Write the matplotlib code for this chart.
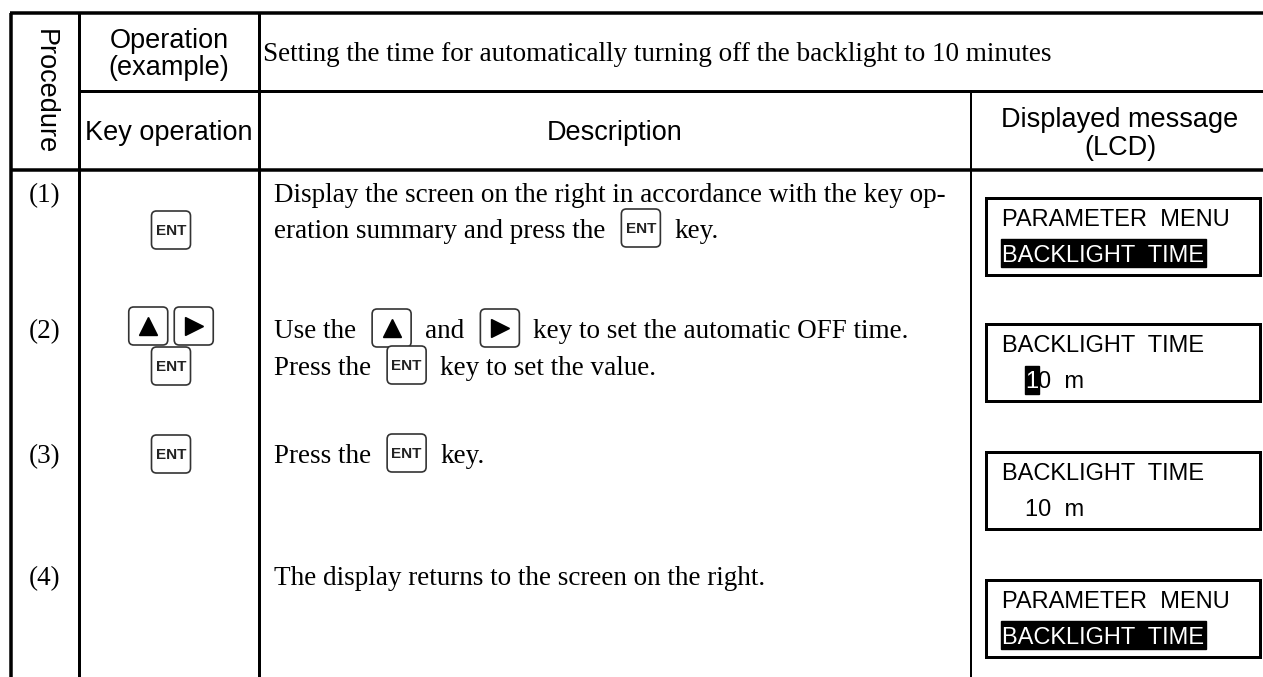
import matplotlib
matplotlib.use("Agg")
import matplotlib.pyplot as plt
from matplotlib.patches import FancyBboxPatch, Rectangle

# conteudo da tabela
passos = ["(1)", "(2)", "(3)", "(4)"]
titulo = "Setting the time for automatically turning off the backlight to 10 minutes"
cab_procedimento = "Procedure"
cab_operacao = ["Operation", "(example)"]
cab_tecla = "Key operation"
cab_descricao = "Description"
cab_lcd = ["Displayed message", "(LCD)"]

# teclas na coluna "Key operation"
teclas = [[["ENT"]], [["UP", "RIGHT"], ["ENT"]], [["ENT"]], []]

# descricao: cada linha e uma lista de pedacos (texto ou tecla)
descricoes = [
    [["Display the screen on the right in accordance with the key op-"],
     ["eration summary and press the", "ENT", "key."]],
    [["Use the", "UP", "and", "RIGHT", "key to set the automatic OFF time."],
     ["Press the", "ENT", "key to set the value."]],
    [["Press the", "ENT", "key."]],
    [["The display returns to the screen on the right."]],
]

# mensagens do LCD: linha 1, linha 2 e tipo de realce
lcd_linha1 = ["PARAMETER  MENU", "BACKLIGHT  TIME", "BACKLIGHT  TIME", "PARAMETER  MENU"]
lcd_linha2 = ["BACKLIGHT  TIME", "10  m", "10  m", "BACKLIGHT  TIME"]
lcd_realce = ["linha", "cursor", None, "linha"]

# layout (pixels)
W, H = 1263, 677
x_esq, x_c1, x_c2, x_c3 = 11, 79, 259, 971
y_topo, y_l1, y_l2 = 13, 91, 170
bases = [[202, 238], [338, 375], [463], [585]]
y_teclas = [[230], [326, 366], [454], []]
lcd_topo = [198, 324, 452, 580]

SERIF = "Liberation Serif"
SANS = "Liberation Sans"
TAM = 19.5
PX = 0.72  # pontos por pixel

fig = plt.figure(figsize=(W / 100, H / 100), dpi=100)
ax = fig.add_axes([0, 0, 1, 1])
ax.set_xlim(0, W)
ax.set_ylim(H, 0)
ax.axis("off")
r = fig.canvas.get_renderer()


def tecla(cx, cy, tipo):
    ax.add_patch(FancyBboxPatch((cx - 19.5, cy - 19), 39, 38,
                                boxstyle="round,pad=0,rounding_size=5",
                                fc="white", ec="#333333", lw=1.2, zorder=3))
    if tipo == "ENT":
        ax.text(cx, cy + 1, "ENT", family=SANS, fontsize=11, fontweight="bold",
                color="#222222", ha="center", va="center", zorder=4)
    else:
        m = "^" if tipo == "UP" else ">"
        ax.plot([cx], [cy], marker=m, ms=13, color="black", zorder=4)


def escreve_linha(x, base, pedacos):
    for p in pedacos:
        if p in ("ENT", "UP", "RIGHT"):
            x += 16
            tecla(x + 19.5, base - 10, p)
            x += 39 + 14
        else:
            t = ax.text(x, base, p, family=SERIF, fontsize=TAM, ha="left", va="baseline")
            x += t.get_window_extent(r).width


def linha(xs, ys, px):
    ax.plot(xs, ys, color="black", lw=px * PX, solid_capstyle="butt")


# linhas da tabela
linha([x_esq - 1.5, W], [y_topo, y_topo], 3.5)
linha([x_esq, x_esq], [y_topo, H], 3.5)
linha([x_c1, x_c1], [y_topo, H], 3)
linha([x_c2, x_c2], [y_topo, H], 3)
linha([x_c1, W], [y_l1, y_l1], 3)
linha([x_esq, W], [y_l2, y_l2], 3.5)
linha([x_c3, x_c3], [y_l1, H], 2)

# cabecalho
ax.text((x_esq + x_c1) / 2, (y_topo + y_l2) / 2, cab_procedimento, family=SANS,
        fontsize=TAM, rotation=270, ha="center", va="center")
ax.text((x_c1 + x_c2) / 2, 48, cab_operacao[0], family=SANS, fontsize=TAM, ha="center", va="baseline")
ax.text((x_c1 + x_c2) / 2, 75, cab_operacao[1], family=SANS, fontsize=TAM, ha="center", va="baseline")
ax.text(263, 61, titulo, family=SERIF, fontsize=TAM, ha="left", va="baseline")
ax.text((x_c1 + x_c2) / 2, 140, cab_tecla, family=SANS, fontsize=TAM, ha="center", va="baseline")
ax.text((x_c2 + x_c3) / 2, 140, cab_descricao, family=SANS, fontsize=TAM, ha="center", va="baseline")
ax.text((x_c3 + W) / 2 + 3, 127, cab_lcd[0], family=SANS, fontsize=TAM, ha="center", va="baseline")
ax.text((x_c3 + W) / 2 + 3, 155, cab_lcd[1], family=SANS, fontsize=TAM, ha="center", va="baseline")

# linhas de procedimento
for i, passo in enumerate(passos):
    ax.text((x_esq + x_c1) / 2, bases[i][0], passo, family=SERIF, fontsize=TAM,
            ha="center", va="baseline")

    # teclas
    for grupo, cy in zip(teclas[i], y_teclas[i]):
        n = len(grupo)
        cx0 = 171 - (n - 1) * 45.5 / 2
        for k, tp in enumerate(grupo):
            tecla(cx0 + k * 45.5, cy, tp)

    # descricao
    for pedacos, base in zip(descricoes[i], bases[i]):
        escreve_linha(274, base, pedacos)

    # LCD
    y0 = lcd_topo[i]
    ax.add_patch(Rectangle((986, y0), 274, 77, fill=False, ec="black", lw=3 * PX))
    ax.text(1002, y0 + 28, lcd_linha1[i], family=SANS, fontsize=17, ha="left", va="baseline")
    b2 = y0 + 64
    if lcd_realce[i] == "linha":
        t = ax.text(1002, b2, lcd_linha2[i], family=SANS, fontsize=17, color="white",
                    ha="left", va="baseline", zorder=3)
        w = t.get_window_extent(r).width
        ax.add_patch(Rectangle((1001, b2 - 23), w + 3, 28, color="black", zorder=2))
    elif lcd_realce[i] == "cursor":
        c = ax.text(1025, b2, lcd_linha2[i][0], family=SANS, fontsize=17, color="white",
                    ha="left", va="baseline", zorder=4)
        w = c.get_window_extent(r).width
        ax.add_patch(Rectangle((1025, b2 - 22), w + 1, 28, color="black", zorder=3.5))
        ax.text(1025 + w, b2, lcd_linha2[i][1:], family=SANS, fontsize=17, ha="left",
                va="baseline", zorder=3)
    else:
        ax.text(1025, b2, lcd_linha2[i], family=SANS, fontsize=17, ha="left",
                va="baseline", zorder=3)

fig.savefig("out.png", dpi=100)
